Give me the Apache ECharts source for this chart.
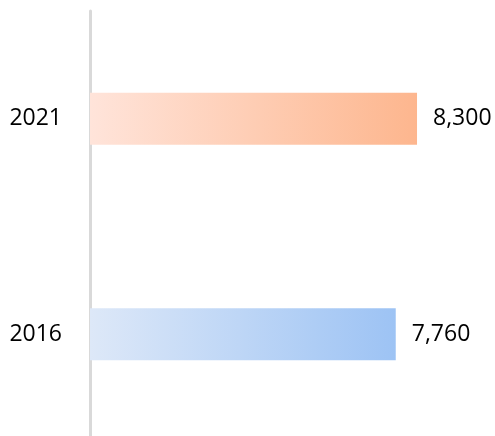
<!DOCTYPE html>
<html>
<head>
<meta charset="utf-8">
<script src="https://cdn.jsdelivr.net/npm/echarts@6/dist/echarts.min.js"></script>
<style>html,body{margin:0;padding:0;background:#fff}#c{width:495px;height:436px}</style>
</head>
<body>
<div id="c"></div>
<script>
var categories = ['2016', '2021'];
var values = [7760, 8300];
var gradients = [
  ['#DDE8F8', '#9DC3F4'],
  ['#FFE4DA', '#FDB68E']
];

var chart = echarts.init(document.getElementById('c'), null, {renderer: 'canvas'});
var data = values.map(function (v, i) {
  return {
    value: v,
    itemStyle: {
      color: new echarts.graphic.LinearGradient(0, 0, 1, 0, [
        {offset: 0, color: gradients[i][0]},
        {offset: 1, color: gradients[i][1]}
      ])
    }
  };
});
chart.setOption({
  animation: false,
  grid: {left: 90, right: 11, top: 11, height: 431, containLabel: false, outerBoundsMode: 'none'},
  xAxis: {
    type: 'value', min: 0, max: 10000, show: false
  },
  yAxis: {
    type: 'category', data: categories, offset: 3,
    axisLine: {show: true, lineStyle: {color: '#D9D9D9', width: 3}},
    axisTick: {show: false},
    axisLabel: {margin: 25, fontSize: 23, color: '#000', fontFamily: 'Open Sans'}
  },
  series: [{
    type: 'bar', data: data, barWidth: 52,
    label: {
      show: true, position: 'right', distance: 16, fontSize: 23, color: '#000',
      fontFamily: 'Open Sans',
      formatter: function (p) { return p.value.toLocaleString('en-US'); }
    }
  }]
});
</script>
</body>
</html>
